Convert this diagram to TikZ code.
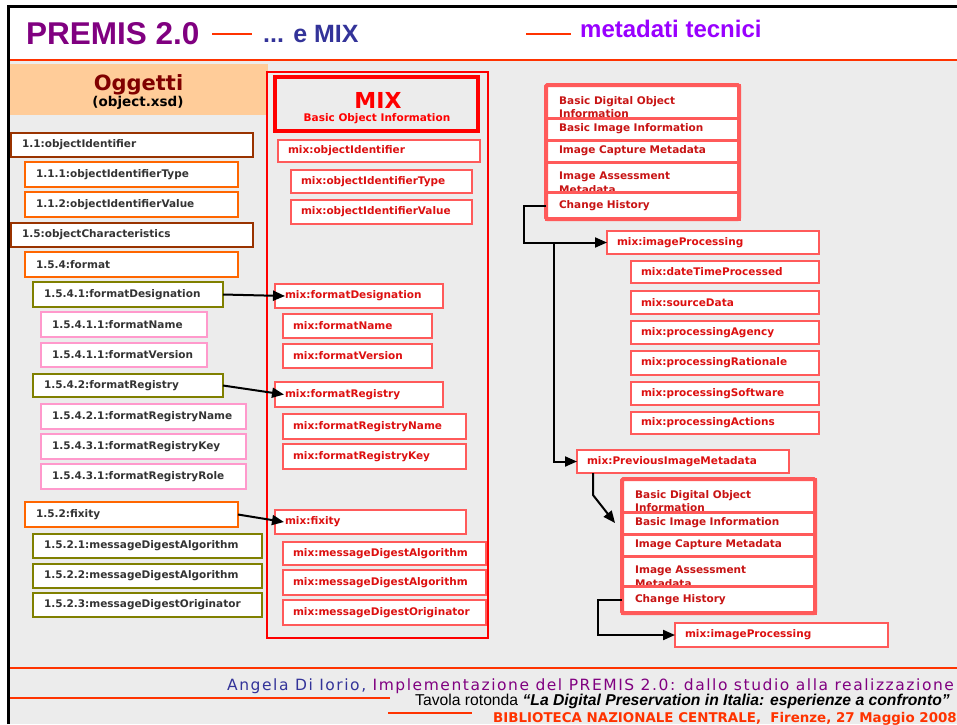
\documentclass[tikz,border=0pt]{standalone}
\usepackage{fontspec}
\setmainfont{DejaVu Sans}
\newfontfamily\arialfont{Liberation Sans}
\newfontfamily\footfont[LetterSpace=10]{DejaVu Sans}
\usetikzlibrary{arrows.meta,positioning}

\definecolor{titlepurple}{HTML}{800080}
\definecolor{titleblue}{HTML}{333399}
\definecolor{violet}{HTML}{9900FF}
\definecolor{accentred}{HTML}{FF3300}
\definecolor{bggrey}{HTML}{ECECEC}
\definecolor{oggfill}{HTML}{FFCC99}
\definecolor{oggtext}{HTML}{800000}
\definecolor{brownbox}{HTML}{993300}
\definecolor{orangebox}{HTML}{FF6600}
\definecolor{olivebox}{HTML}{808000}
\definecolor{pinkbox}{HTML}{FF99CC}
\definecolor{mixred}{HTML}{FF0000}
\definecolor{mixline}{HTML}{FF5A5A}
\definecolor{mixtext}{HTML}{DD1010}
\definecolor{stacktext}{HTML}{C81414}

\hyphenpenalty=10000
\exhyphenpenalty=10000

\begin{document}
\begin{tikzpicture}[x=1pt, y=-1pt,
        boxfont/.style={font=\fontsize{10.5}{13.5}\selectfont\bfseries},
        lbox/.style={draw=#1, line width=1.8pt, fill=white, text=black!80, anchor=north west, outer sep=0pt, inner xsep=11pt, inner ysep=0pt, align=left, boxfont},
        mbox/.style={draw=mixline, line width=2pt, fill=white, text=mixtext, anchor=north west, outer sep=0pt, inner xsep=10pt, inner ysep=0pt, align=left, boxfont},
        sbox/.style={draw=mixline, line width=3pt, fill=white, text=stacktext, anchor=north west, outer sep=0pt, inner xsep=13pt, inner ysep=0pt, text width=167pt, align=left, boxfont},
        stxt/.style={text=stacktext, anchor=north west, inner sep=0pt, align=left, boxfont},
        conn/.style={line width=2pt, -{Triangle[length=12pt,width=10pt]}},
        redline/.style={accentred, line width=2pt}]
        \useasboundingbox (0,0) rectangle (957,724);
        \fill[white] (0,0) rectangle (957,724);
        \fill[bggrey] (10,61) rectangle (957,724);
        \draw[black, line width=3pt] (8.5,724) -- (8.5,6.5) -- (957,6.5);
        \draw[redline] (10,60) -- (957,60);

        \node (premis) at (26,44) [anchor=base west, inner sep=0pt, text=titlepurple, font=\arialfont\bfseries\fontsize{31.5}{32}\selectfont] {PREMIS 2.0};
        \draw[redline] (212,34) -- (252,34);
        \node (emix) at (263,42) [anchor=base west, inner sep=0pt, text=titleblue, font=\arialfont\bfseries\fontsize{25}{25}\selectfont] {... e MIX};
        \draw[redline] (526,34) -- (571,34);
        \node (meta) at (580,37) [anchor=base west, inner sep=0pt, text=violet, font=\arialfont\bfseries\fontsize{24}{24}\selectfont] {metadati tecnici};

        \node (ogg) at (10,64) [fill=oggfill, anchor=north west, minimum width=258pt, minimum height=51pt, inner sep=0pt] {};
        \node (oggtitle) at (138.5,90.5) [anchor=base, inner sep=0pt, text=oggtext, font=\bfseries\fontsize{21}{21}\selectfont] {Oggetti};
        \node (oggxsd) at (138,106) [anchor=base, inner sep=0pt, font=\bfseries\fontsize{13.5}{14}\selectfont] {(object.xsd)};

        \node (loid) at (11,133) [lbox=brownbox, text width=220pt, minimum height=24pt] {1.1:objectIdentifier};
        \node (loidt) at (25,162) [lbox=orangebox, text width=191pt, minimum height=25pt] {1.1.1:objectIdentifierType};
        \node (loidv) at (25,192) [lbox=orangebox, text width=191pt, minimum height=25pt] {1.1.2:objectIdentifierValue};
        \node (loch) at (11,223) [lbox=brownbox, text width=220pt, minimum height=24pt] {1.5:objectCharacteristics};
        \node (lfmt) at (25,252) [lbox=orangebox, text width=191pt, minimum height=25pt] {1.5.4:format};
        \node (lfdes) at (33,282) [lbox=olivebox, text width=168pt, minimum height=25pt] {1.5.4.1:formatDesignation};
        \node (lfname) at (41,312) [lbox=pinkbox, text width=144pt, minimum height=25pt] {1.5.4.1.1:formatName};
        \node (lfver) at (41,343) [lbox=pinkbox, text width=144pt, minimum height=24pt] {1.5.4.1.1:formatVersion};
        \node (lfreg) at (33,374) [lbox=olivebox, text width=168pt, minimum height=23pt] {1.5.4.2:formatRegistry};
        \node (lfregn) at (41,404) [lbox=pinkbox, text width=183pt, minimum height=25pt] {1.5.4.2.1:formatRegistryName};
        \node (lfregk) at (41,434) [lbox=pinkbox, text width=183pt, minimum height=25pt] {1.5.4.3.1:formatRegistryKey};
        \node (lfregr) at (41,464) [lbox=pinkbox, text width=183pt, minimum height=25pt] {1.5.4.3.1:formatRegistryRole};
        \node (lfix) at (25,502) [lbox=orangebox, text width=191pt, minimum height=25pt] {1.5.2:fixity};
        \node (lmda1) at (33,534) [lbox=olivebox, text width=207pt, minimum height=24pt] {1.5.2.1:messageDigestAlgorithm};
        \node (lmda2) at (33,564) [lbox=olivebox, text width=207pt, minimum height=24pt] {1.5.2.2:messageDigestAlgorithm};
        \node (lmdo) at (33,593) [lbox=olivebox, text width=207pt, minimum height=24pt] {1.5.2.3:messageDigestOriginator};

        \draw[mixred, line width=1.5pt] (267,72) rectangle (488,638);
        \node (mixhead) at (275,77) [draw=mixred, line width=4pt, anchor=north west, outer sep=0pt, minimum width=203pt, minimum height=54pt, inner sep=0pt] {};
        \node (mixtitle) at (378,108) [anchor=base, inner sep=0pt, text=mixred, font=\bfseries\fontsize{22}{22}\selectfont] {MIX};
        \node (mixsub) at (377,121) [anchor=base, inner sep=0pt, text=mixred, boxfont] {Basic Object Information};

        \node (moid) at (278,140) [mbox, text width=182pt, minimum height=22pt] {mix:objectIdentifier};
        \node (moidt) at (291,170) [mbox, text width=161pt, minimum height=23pt] {mix:objectIdentifierType};
        \node (moidv) at (291,200) [mbox, text width=161pt, minimum height=24pt] {mix:objectIdentifierValue};
        \node (mfdes) at (275,284) [mbox, text width=148pt, minimum height=24pt] {mix:formatDesignation};
        \node (mfname) at (283,314) [mbox, text width=129pt, minimum height=24pt] {mix:formatName};
        \node (mfver) at (283,344) [mbox, text width=129pt, minimum height=24pt] {mix:formatVersion};
        \node (mfreg) at (275,382) [mbox, text width=148pt, minimum height=25pt] {mix:formatRegistry};
        \node (mfregn) at (283,414) [mbox, text width=163pt, minimum height=25pt] {mix:formatRegistryName};
        \node (mfregk) at (283,444) [mbox, text width=163pt, minimum height=25pt] {mix:formatRegistryKey};
        \node (mfix) at (275,510) [mbox, text width=171pt, minimum height=24pt] {mix:fixity};
        \node (mmda1) at (283,542) [mbox, text width=183pt, minimum height=23pt] {mix:messageDigestAlgorithm};
        \node (mmda2) at (283,570) [mbox, text width=183pt, minimum height=25pt] {mix:messageDigestAlgorithm};
        \node (mmdo) at (283,600) [mbox, text width=183pt, minimum height=25pt] {mix:messageDigestOriginator};

        \draw[conn] (lfdes.east) -- ([xshift=10pt]mfdes.west);
        \draw[conn] (lfreg.east) -- ([xshift=9pt]mfreg.west);
        \draw[conn] (lfix.east) -- ([xshift=9pt]mfix.west);

        \foreach \sx/\sy/\s in {546/85/a, 622/479/b} {
                \node (bdo\s) at (\sx,\sy) [sbox, minimum height=33pt] {};
                \node (bdot\s) at ([xshift=13pt,yshift=-11pt]bdo\s.north west) [stxt] {Basic Digital Object\\Information};
                \node (bii\s) at (bdo\s.south west) [sbox, minimum height=22pt] {Basic Image Information};
                \node (icm\s) at (bii\s.south west) [sbox, minimum height=22pt] {Image Capture Metadata};
                \node (iam\s) at (icm\s.south west) [sbox, minimum height=30pt] {};
                \node (iamt\s) at ([xshift=13pt,yshift=-10pt]iam\s.north west) [stxt] {Image Assessment\\Metadata};
                \node (chist\s) at (iam\s.south west) [sbox, minimum height=27pt] {Change History};
                \draw[mixline, line width=4pt, rounded corners=1.5pt] (bdo\s.north west) rectangle (chist\s.south east);
        }

        \node (imgp) at (607,231) [mbox, text width=192pt, minimum height=23pt] {mix:imageProcessing};
        \node (dtp) at (631,261) [mbox, text width=168pt, minimum height=22pt] {mix:dateTimeProcessed};
        \node (src) at (631,291) [mbox, text width=168pt, minimum height=23pt] {mix:sourceData};
        \node (pag) at (631,321) [mbox, text width=168pt, minimum height=23pt] {mix:processingAgency};
        \node (prat) at (631,351) [mbox, text width=168pt, minimum height=24pt] {mix:processingRationale};
        \node (psw) at (631,382) [mbox, text width=168pt, minimum height=23pt] {mix:processingSoftware};
        \node (pact) at (631,412) [mbox, text width=168pt, minimum height=22pt] {mix:processingActions};
        \node (pim) at (577,450) [mbox, text width=192pt, minimum height=23pt] {mix:PreviousImageMetadata};
        \node (imgp2) at (675,623) [mbox, text width=193pt, minimum height=24pt] {mix:imageProcessing};

        \draw[conn] (chista.west) -- ++(-22,0) |- (imgp.west);
        \coordinate (split) at ([xshift=-53pt]imgp.west);
        \draw[conn] (split) |- (pim.west);
        \draw[conn] ([xshift=16pt]pim.south west) -- ++(0,22) -- ([xshift=-7pt]biib.west);
        \draw[conn] (chistb.west) -- ++(-24,0) |- (imgp2.west);

        \draw[redline] (10,668) -- (957,668);
        \node (author) at (227,690) [anchor=base west, inner sep=0pt, text=titlepurple, font=\footfont\fontsize{15.5}{15.5}\selectfont] {\textcolor{titleblue}{Angela Di Iorio,} Implementazione del PREMIS 2.0: dallo studio alla realizzazione};
        \draw[redline] (10,698) -- (390,698);
        \node (event) at (415,705) [anchor=base west, inner sep=0pt, font=\arialfont\fontsize{15.7}{15.7}\selectfont] {Tavola rotonda \textbf{\textit{“La Digital Preservation in Italia: esperienze a confronto”}}};
        \draw[redline] (388,713) -- (472,713);
        \node (venue) at (493,722) [anchor=base west, inner sep=0pt, text=accentred, font=\bfseries\fontsize{13.4}{14}\selectfont] {BIBLIOTECA NAZIONALE CENTRALE,\ \ Firenze, 27 Maggio 2008};
    \end{tikzpicture}
\end{document}
